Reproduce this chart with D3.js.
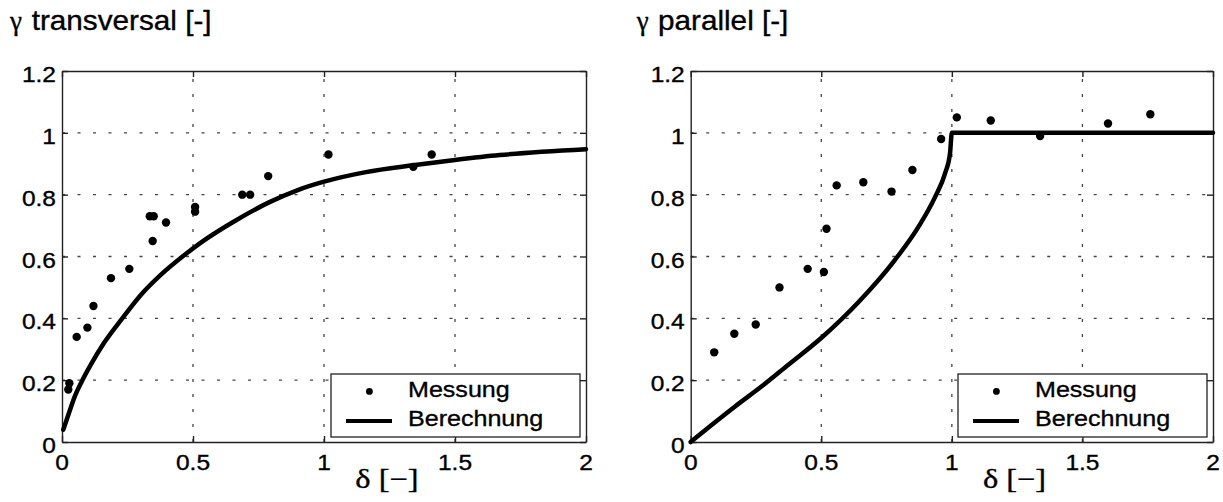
<!DOCTYPE html>
<html>
<head>
<meta charset="utf-8">
<script src="https://cdn.jsdelivr.net/npm/d3@7"></script>
<style>
  body { margin: 0; background: white; }
  svg { display: block; }
</style>
</head>
<body>
<svg id="plot"></svg>
<script>
// Ticks shared by both panels
const xTicks = [0, 0.5, 1, 1.5, 2];
const yTicks = [0, 0.2, 0.4, 0.6, 0.8, 1, 1.2];

// gamma transversal: measurements
const transMessX = [0.024, 0.028, 0.056, 0.097, 0.12, 0.187, 0.257, 0.335, 0.35, 0.346, 0.397, 0.508, 0.508, 0.688, 0.718, 0.787, 1.017, 1.341, 1.411];
const transMessY = [0.17, 0.19, 0.34, 0.37, 0.44, 0.53, 0.56, 0.73, 0.73, 0.65, 0.71, 0.745, 0.76, 0.80, 0.80, 0.86, 0.93, 0.89, 0.93];
// gamma transversal: calculation
const transCalcX = [0.005, 0.025, 0.05, 0.075, 0.11, 0.16, 0.23, 0.3, 0.38, 0.46, 0.53, 0.65, 0.79, 0.9, 1.0, 1.16, 1.34, 1.5, 1.67, 2.0];
const transCalcY = [0.04, 0.09, 0.15, 0.195, 0.25, 0.32, 0.40, 0.475, 0.543, 0.6, 0.645, 0.71, 0.775, 0.815, 0.842, 0.873, 0.895, 0.912, 0.928, 0.947];

// gamma parallel: measurements
const parMessX = [0.09, 0.167, 0.249, 0.34, 0.448, 0.51, 0.52, 0.559, 0.661, 0.769, 0.849, 0.959, 1.019, 1.149, 1.338, 1.598, 1.76];
const parMessY = [0.29, 0.35, 0.38, 0.50, 0.56, 0.55, 0.69, 0.83, 0.84, 0.81, 0.88, 0.98, 1.05, 1.04, 0.99, 1.03, 1.06];
// gamma parallel: calculation
const parCalcX = [0, 0.08, 0.17, 0.272, 0.374, 0.502, 0.642, 0.783, 0.872, 0.936, 0.974, 0.993, 1.0, 2.0];
const parCalcY = [0, 0.055, 0.115, 0.18, 0.25, 0.338, 0.452, 0.59, 0.696, 0.793, 0.869, 0.934, 1.0, 1.0];

const titles = ['transversal [-]', 'parallel [-]'];
const legendLabels = ['Messung', 'Berechnung'];
const xLabel = 'δ [\u2212]';

let width = 1223, height = 502;

let svg = d3.select('#plot')
  .attr('width', width)
  .attr('height', height)
  .style('background', 'white');

const sans = "'Liberation Sans', Arimo, Arial, sans-serif";
const serif = "'Liberation Serif', 'Times New Roman', serif";

// stretched text helper (the scan is a bit wider than plain Arial)
function label(g, x, y, txt, size, sx, anchor, family) {
  return g.append('text')
    .attr('transform', `translate(${x},${y}) scale(${sx},1)`)
    .attr('text-anchor', anchor)
    .style('font-family', family)
    .style('font-size', size + 'px')
    .attr('fill', '#000')
    .attr('stroke', '#000')
    .attr('stroke-width', 0.35)
    .text(txt);
}

const panels = [
  { left: 62, right: 586, title: titles[0], gx: 10, tx: 31.7, mx: transMessX, my: transMessY, cx: transCalcX, cy: transCalcY },
  { left: 690.7, right: 1213, title: titles[1], gx: 636.7, tx: 658, mx: parMessX, my: parMessY, cx: parCalcX, cy: parCalcY }
];
const plotTop = 71, plotBottom = 442;

panels.forEach(function(p) {
  let g = svg.append('g');

  let xScale = d3.scaleLinear().domain([0, 2]).range([p.left, p.right]);
  let yScale = d3.scaleLinear().domain([0, 1.2]).range([plotBottom, plotTop]);

  // dotted grid
  g.append('g')
    .selectAll('line')
    .data(xTicks.slice(1, -1))
    .enter()
    .append('line')
    .attr('x1', d => xScale(d)).attr('x2', d => xScale(d))
    .attr('y1', plotBottom).attr('y2', plotTop)
    .attr('stroke', '#444')
    .attr('stroke-width', 1.3)
    .attr('stroke-dasharray', '3,12');

  g.append('g')
    .selectAll('line')
    .data(yTicks.slice(1, -1))
    .enter()
    .append('line')
    .attr('x1', p.left).attr('x2', p.right)
    .attr('y1', d => yScale(d)).attr('y2', d => yScale(d))
    .attr('stroke', '#444')
    .attr('stroke-width', 1.3)
    .attr('stroke-dasharray', '3,12.5');

  // axes with inward ticks, all four sides
  let axB = g.append('g').attr('transform', `translate(0,${plotBottom})`)
    .call(d3.axisBottom(xScale).tickValues(xTicks).tickSizeInner(-6).tickSizeOuter(0).tickFormat(''));
  let axT = g.append('g').attr('transform', `translate(0,${plotTop})`)
    .call(d3.axisTop(xScale).tickValues(xTicks).tickSizeInner(-6).tickSizeOuter(0).tickFormat(''));
  let axL = g.append('g').attr('transform', `translate(${p.left},0)`)
    .call(d3.axisLeft(yScale).tickValues(yTicks).tickSizeInner(-6).tickSizeOuter(0).tickFormat(''));
  let axR = g.append('g').attr('transform', `translate(${p.right},0)`)
    .call(d3.axisRight(yScale).tickValues(yTicks).tickSizeInner(-6).tickSizeOuter(0).tickFormat(''));
  [axB, axT, axL, axR].forEach(function(a) {
    a.selectAll('path, line').attr('stroke', '#222').attr('stroke-width', 1.4);
  });

  // tick labels
  xTicks.forEach(function(t) {
    label(g, xScale(t), plotBottom + 28, String(t), 21.5, 1.14, 'middle', sans);
  });
  yTicks.forEach(function(t) {
    label(g, p.left - 6, yScale(t) + 11, String(t), 21.5, 1.14, 'end', sans);
  });

  // titles and axis label
  label(g, p.gx, 30, 'γ', 27, 1.0, 'start', serif);
  label(g, p.tx, 30, p.title, 27, 1.1, 'start', sans);
  label(g, xScale(1.24), 488, xLabel, 27, 1.2, 'middle', serif);

  // calculated curve
  let pts = p.cx.map((x, i) => [x, p.cy[i]]);
  let line = d3.line()
    .x(d => xScale(d[0]))
    .y(d => yScale(d[1]))
    .curve(d3.curveMonotoneX);
  g.append('path')
    .datum(pts)
    .attr('d', line)
    .attr('fill', 'none')
    .attr('stroke', 'black')
    .attr('stroke-width', 4.5)
    .attr('stroke-linejoin', 'round')
    .attr('stroke-linecap', 'round');

  // measured points
  let meas = p.mx.map((x, i) => [x, p.my[i]]);
  g.append('g')
    .selectAll('circle')
    .data(meas)
    .enter()
    .append('circle')
    .attr('cx', d => xScale(d[0]))
    .attr('cy', d => yScale(d[1]))
    .attr('r', 4.2)
    .attr('fill', 'black');

  // legend
  let lx = p.right - 6 - 249, ly = plotBottom - 5 - 63;
  let lg = g.append('g');
  lg.append('rect')
    .attr('x', lx).attr('y', ly)
    .attr('width', 249).attr('height', 63)
    .attr('fill', 'white')
    .attr('stroke', '#222')
    .attr('stroke-width', 1.3);
  lg.append('circle')
    .attr('cx', lx + 38.4).attr('cy', ly + 17.4)
    .attr('r', 3.4).attr('fill', 'black');
  lg.append('line')
    .attr('x1', lx + 15).attr('x2', lx + 61)
    .attr('y1', ly + 47).attr('y2', ly + 47)
    .attr('stroke', 'black').attr('stroke-width', 4.2);
  label(lg, lx + 77, ly + 23, legendLabels[0], 22, 1.14, 'start', sans);
  label(lg, lx + 77, ly + 52.4, legendLabels[1], 22, 1.14, 'start', sans);
});
</script>
</body>
</html>
